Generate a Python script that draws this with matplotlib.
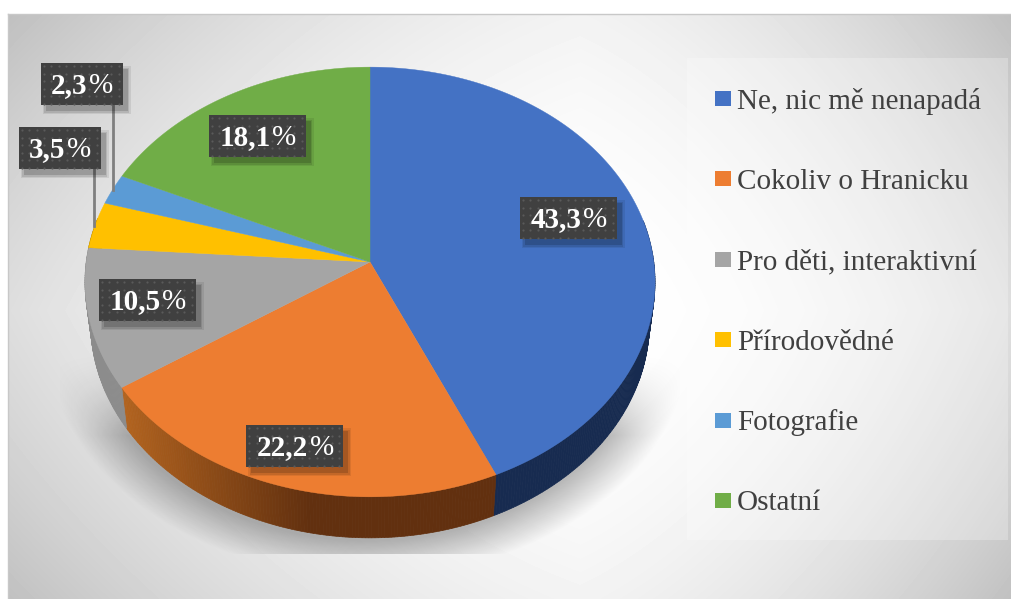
import numpy as np
import matplotlib
matplotlib.use('Agg')
import matplotlib.pyplot as plt
from matplotlib.patches import Polygon, Rectangle

# chart values
categories = ['Ne, nic mě nenapadá', 'Cokoliv o Hranicku', 'Pro děti, interaktivní',
              'Přírodovědné', 'Fotografie', 'Ostatní']
values = [43.3, 22.2, 10.5, 3.5, 2.3, 18.1]
value_numbers = ['43,3', '22,2', '10,5', '3,5', '2,3', '18,1']
colors = ['#4472C4', '#ED7D31', '#A5A5A5', '#FFC000', '#5B9BD5', '#70AD47']
label_centers = [(568.5, 218), (295, 446), (147.5, 300), (60, 148), (82, 84), (257.5, 136)]

W, H = 1012, 599
CX, CY = 370, 262      # where the slices meet
A, B, K = 283.8, 213, 0.093   # tilted disc
DEPTH = 41
SHRINK = 0.98


def project(frac):
    # fraction of the pie, clockwise from the top -> picture coordinates
    t = 2 * np.pi * np.asarray(frac)
    x, y = np.sin(t), np.cos(t)
    w = 1 + K * y
    return CX + A * x / w, CY - B * y / w


def mix(c1, c2, t):
    c1 = np.array(matplotlib.colors.to_rgb(c1))
    c2 = np.array(matplotlib.colors.to_rgb(c2))
    return tuple(c1 + (c2 - c1) * t)


fig = plt.figure(figsize=(W / 100, H / 100), dpi=100)
ax = fig.add_axes([0, 0, 1, 1])
ax.axis('off')

# frame background, grey corners to white in the middle
yy, xx = np.mgrid[14:599, 8:1012]
dx = np.where(xx < 580, (580 - xx) / 572.0, (xx - 580) / 432.0)
dy = np.abs(yy - 310) / 296.0
bg = np.clip(1.0 - 0.13 * dx ** 2 - 0.05 * dy ** 2 - 0.07 * dx * dy, 0, 1)
ax.imshow(bg, extent=(8, 1012, 599, 14), cmap='gray', vmin=0, vmax=1, zorder=0, aspect='auto')
ax.plot([8, 1012], [14, 14], color='#c8c8c8', lw=1, zorder=1)
ax.plot([8, 8], [14, 599], color='#c8c8c8', lw=1, zorder=1)

# legend panel
ax.add_patch(Rectangle((687, 58), 321, 482, facecolor='white', alpha=0.25, edgecolor='none', zorder=1))

# soft shadow under the pie, fades upward and is cut off at its lower edge
yy, xx = np.mgrid[300:554, 60:680]
r = np.sqrt(((xx - 368) / 305.0) ** 2 + ((yy - 335) / 228.0) ** 2)
sh = np.clip((1.06 - r) / 0.16, 0, 1) * np.clip((yy - 345) / 90.0, 0, 1) ** 2
rgba = np.zeros(sh.shape + (4,))
rgba[..., 3] = 0.27 * sh
ax.imshow(rgba, extent=(60, 680, 554, 300), zorder=2, aspect='auto')
ax.set_xlim(0, W)
ax.set_ylim(H, 0)

# side wall
side_dark = ['#172B50', '#62300F', '#7F7F7F', '#8A6A00', '#3A6590', '#44692B']
side_light = ['#172B50', '#B3641F', '#8C8C8C', '#8A6A00', '#3A6590', '#44692B']
fracs = np.cumsum([0] + values) / sum(values)
for i in range(len(values)):
    ts = np.linspace(fracs[i], fracs[i + 1], max(int(values[i] * 6), 3))
    px, py = project(ts)
    bx, by = CX + (px - CX) * SHRINK, py + DEPTH
    for j in range(len(ts) - 1):
        if np.cos(2 * np.pi * ts[j]) > 0.2:
            continue
        t = np.clip((310 - px[j]) / 190.0, 0, 1)
        c = mix(side_dark[i], side_light[i], t)
        ax.add_patch(Polygon([(px[j], py[j]), (px[j + 1], py[j + 1]), (bx[j + 1], by[j + 1]), (bx[j], by[j])],
                             closed=True, facecolor=c, edgecolor=c, lw=0.5, zorder=3))

# top face
for i in range(len(values)):
    ts = np.linspace(fracs[i], fracs[i + 1], max(int(values[i] * 6), 3))
    px, py = project(ts)
    pts = [(CX, CY)] + list(zip(px, py))
    ax.add_patch(Polygon(pts, closed=True, facecolor=colors[i], edgecolor=colors[i], lw=0.3, zorder=4))

# leader lines for the two small slices
ax.plot([94, 94], [169, 226], color='#7f7f7f', lw=2, zorder=5)
ax.plot([113, 113], [105, 190], color='#7f7f7f', lw=2, zorder=5)

# value labels: dark dotted box with a soft shadow
for (lx, ly), num in zip(label_centers, value_numbers):
    bw, bh = (97 if len(num) == 4 else 82), 42
    for grow, a in [(3, 0.08), (1.5, 0.1), (0, 0.15)]:
        ax.add_patch(Rectangle((lx - bw / 2 + 5 - grow, ly - bh / 2 + 6 - grow), bw + 2 * grow, bh + 2 * grow,
                               facecolor='black', alpha=a, edgecolor='none', zorder=6))
    ax.add_patch(Rectangle((lx - bw / 2, ly - bh / 2), bw, bh, facecolor='#404040', edgecolor='none', zorder=7))
    gx, gy = np.meshgrid(np.arange(lx - bw / 2 + 3, lx + bw / 2 - 1, 7.5), np.arange(ly - bh / 2 + 3, ly + bh / 2 - 1, 7.5))
    ax.scatter(gx.ravel(), gy.ravel(), s=2.5, color='#5a5a5a', linewidths=0, zorder=7.5)
    # number in bold, the percent sign comes out thinner
    split = lx + (13 if len(num) == 4 else 5)
    ax.text(split, ly + 9, num, color='white', family='Liberation Serif', weight='bold', fontsize=21,
            ha='right', va='baseline', zorder=8)
    ax.text(split + 2, ly + 9, '%', color='white', family='Liberation Serif', fontsize=21,
            ha='left', va='baseline', zorder=8)

# legend
legend_y = [98.6, 178.8, 259.7, 339.8, 420, 500.5]
for name, col, ly in zip(categories, colors, legend_y):
    ax.add_patch(Rectangle((715, ly - 7.5), 16, 15, facecolor=col, edgecolor='none', zorder=6))
    ax.text(737, ly + 10, name, color='#404040', family='Liberation Serif', fontsize=21,
            ha='left', va='baseline', zorder=6)

fig.savefig('out.png', dpi=100)
